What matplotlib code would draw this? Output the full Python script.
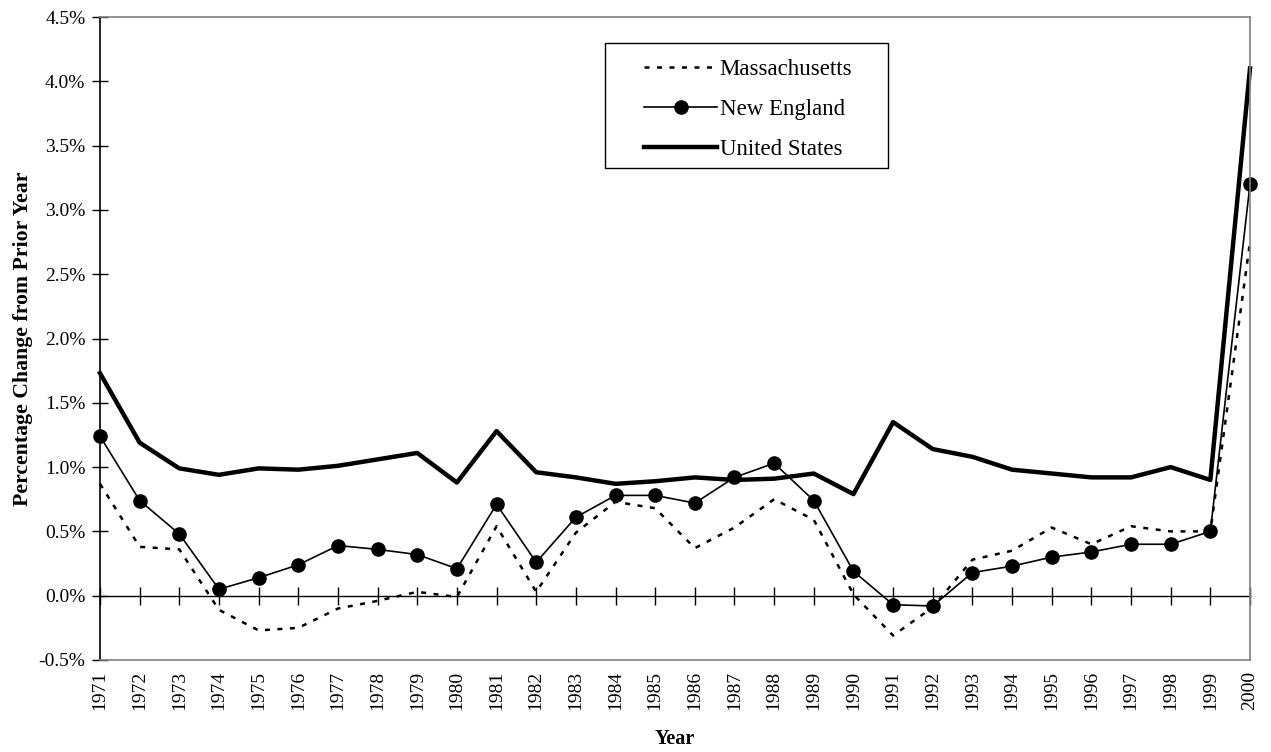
import matplotlib

matplotlib.use("Agg")
import matplotlib.pyplot as plt
from matplotlib.patches import Rectangle
from matplotlib.ticker import FuncFormatter

plt.rcParams["font.family"] = ["Liberation Serif", "DejaVu Serif"]
plt.rcParams["axes.unicode_minus"] = False

# Data (percent change from prior year)
years = list(range(1971, 2001))
massachusetts = [0.87, 0.38, 0.36, -0.11, -0.27, -0.25, -0.10, -0.04, 0.03, -0.01,
                 0.54, 0.03, 0.49, 0.73, 0.68, 0.37, 0.53, 0.75, 0.59, 0.01,
                 -0.31, -0.09, 0.28, 0.35, 0.53, 0.40, 0.54, 0.50, 0.50, 2.75]
new_england = [1.24, 0.74, 0.48, 0.05, 0.14, 0.24, 0.39, 0.36, 0.32, 0.21,
               0.71, 0.26, 0.61, 0.78, 0.78, 0.72, 0.92, 1.03, 0.74, 0.19,
               -0.07, -0.08, 0.18, 0.23, 0.30, 0.34, 0.40, 0.40, 0.50, 3.20]
united_states = [1.73, 1.19, 0.99, 0.94, 0.99, 0.98, 1.01, 1.06, 1.11, 0.88,
                 1.28, 0.96, 0.92, 0.87, 0.89, 0.92, 0.90, 0.91, 0.95, 0.79,
                 1.35, 1.14, 1.08, 0.98, 0.95, 0.92, 0.92, 1.00, 0.90, 4.10]
y_min, y_max = -0.5, 4.5

W, H = 1271, 752
fig = plt.figure(figsize=(W / 100, H / 100), dpi=100)
ax = fig.add_axes([100 / W, 92 / H, 1150 / W, 643 / H])

ax.plot(years, massachusetts, color="black", lw=1.8, ls=(0, (2, 3)),
        label="Massachusetts", clip_on=False)
ax.plot(years, new_england, color="black", lw=1.2, marker="o", markersize=9.5,
        label="New England", clip_on=False)
ax.plot(years, united_states, color="black", lw=3.2, label="United States",
        clip_on=False)

ax.set_xlim(years[0], years[-1])
ax.set_ylim(y_min, y_max)
ax.set_yticks([y_min + 0.5 * i for i in range(11)])
ax.yaxis.set_major_formatter(FuncFormatter(lambda v, p: f"{v:.1f}%"))
ax.set_xticks(years)
ax.set_xticklabels([str(y) for y in years], rotation=90)
ax.tick_params(axis="x", length=0, pad=8, labelsize=14)
ax.tick_params(axis="y", direction="inout", length=11, width=1, pad=5, labelsize=14)

for side in ["top", "right", "bottom"]:
    ax.spines[side].set_color("#808080")
    ax.spines[side].set_linewidth(1.2)
ax.spines["left"].set_color("black")
ax.spines["left"].set_linewidth(1.2)

# zero line with crossing ticks
zero_pos = (0 - y_min) / (y_max - y_min)
secax = ax.secondary_xaxis(zero_pos)
secax.set_xticks(years)
secax.tick_params(direction="inout", length=13, width=1, labelbottom=False,
                  labeltop=False, color="black")
for sp in secax.spines.values():
    sp.set_color("black")
    sp.set_linewidth(1.0)

ax.set_ylabel("Percentage Change from Prior Year", fontsize=15.7, fontweight="bold")
ax.set_xlabel("Year", fontsize=14.5, fontweight="bold")
ax.yaxis.set_label_coords(-0.058, 0.5)
ax.xaxis.set_label_coords(0.5, -0.108)

# legend: entries without frame, plain box drawn around them
leg = fig.legend(loc="upper left", bbox_to_anchor=(644 / W, 1 - 59 / H),
                 borderaxespad=0, borderpad=0, fontsize=16.5, handlelength=3.2,
                 handletextpad=0.1, labelspacing=0.83, frameon=False)
fig.patches.append(Rectangle((605 / W, 1 - 168 / H), 283 / W, 125 / H,
                             transform=fig.transFigure, fill=False,
                             edgecolor="black", linewidth=1.0))

fig.savefig("out.png", dpi=100)
